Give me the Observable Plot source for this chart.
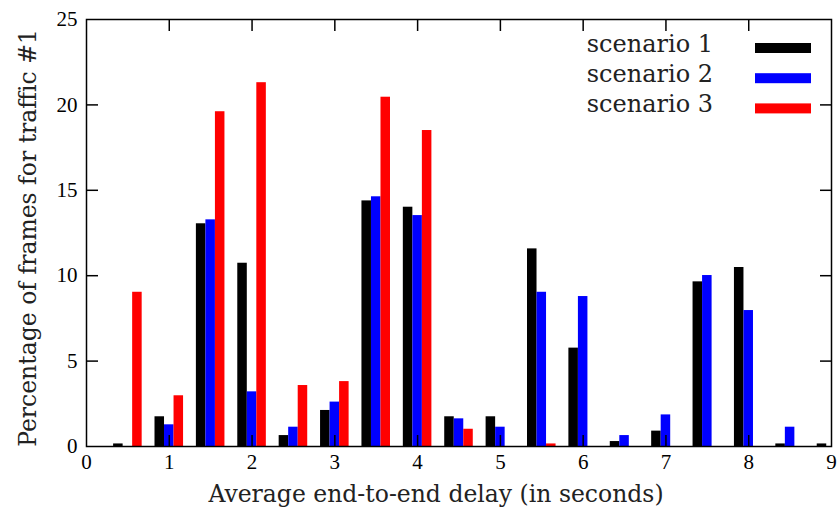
<!DOCTYPE html>
<html><head><meta charset="utf-8">
<script src="https://cdn.jsdelivr.net/npm/d3@7"></script>
<script src="https://cdn.jsdelivr.net/npm/@observablehq/plot@0.6"></script>
<style>body{margin:0;background:#fff} #chart{width:838px;height:511px}</style>
</head><body><div id="chart"></div>
<script>
const delays = [0.5,1,1.5,2,2.5,3,3.5,4,4.5,5,5.5,6,6.5,7,7.5,8,8.5,9];
const scenario1 = [0.15,1.74,13.04,10.73,0.64,2.11,14.38,14.01,1.74,1.74,11.57,5.76,0.29,0.9,9.64,10.48,0.15,0.15];
const scenario2 = [0,1.27,13.27,3.2,1.13,2.6,14.62,13.52,1.62,1.13,9.03,8.78,0.64,1.85,10.01,7.96,1.13,0];
const scenario3 = [9.03,2.97,19.6,21.3,3.57,3.8,20.45,18.5,1.01,0,0.15,0,0,0,0,0,0,0];
const seriesNames = ["scenario 1","scenario 2","scenario 3"];
const seriesColors = ["#000000","#0000ff","#ff0000"];
const xTicks = [0,1,2,3,4,5,6,7,8,9];
const yTicks = [0,5,10,15,20,25];
const xLabel = "Average end-to-end delay (in seconds)";
const yLabel = "Percentage of frames for traffic #1";

const barW = 0.115;
const series = [scenario1, scenario2, scenario3];
const bars = series.flatMap((vals, s) => vals.map((v, i) => ({
  x1: delays[i] + (s - 1) * barW - barW / 2,
  x2: delays[i] + (s - 1) * barW + barW / 2,
  value: v, color: seriesColors[s]
})));

const serif = "'DejaVu Serif', serif";
const tickFont = "'Liberation Serif', serif";
const innerX = xTicks.slice(1, -1);
const innerY = yTicks.slice(1, -1);

const plot = Plot.plot({
  width: 838, height: 511,
  marginLeft: 86, marginRight: 7, marginTop: 19, marginBottom: 65,
  x: {domain: [0, 9]},
  y: {domain: [0, 25]},
  style: {fontFamily: tickFont, background: "white", color: "black"},
  marks: [
    Plot.rectY(bars, {x1: "x1", x2: "x2", y: "value", fill: "color"}),
    Plot.axisX({anchor: "bottom", ticks: xTicks, tickSize: 0, tickPadding: 8, fontSize: 21, label: null}),
    Plot.axisY({anchor: "left", ticks: yTicks, tickSize: 0, tickPadding: 9, fontSize: 21, label: null}),
    Plot.axisX({anchor: "top", ticks: innerX, tickSize: -11, tickFormat: () => "", label: null, strokeWidth: 1.5}),
    Plot.axisX({anchor: "bottom", ticks: innerX, tickSize: -11, tickFormat: () => "", label: null, strokeWidth: 1.5}),
    Plot.axisY({anchor: "left", ticks: innerY, tickSize: -12, tickFormat: () => "", label: null, strokeWidth: 1.5}),
    Plot.axisY({anchor: "right", ticks: innerY, tickSize: -12, tickFormat: () => "", label: null, strokeWidth: 1.5}),
    Plot.frame({stroke: "black", strokeWidth: 1.5}),
    Plot.text([xLabel], {text: d => d, frameAnchor: "bottom", textAnchor: "middle", dy: 48, dx: -23, fontSize: 23.5, fontFamily: serif, lineAnchor: "middle", fill: "#222"}),
    Plot.text([yLabel], {text: d => d, frameAnchor: "left", textAnchor: "middle", rotate: -90, dx: -58, dy: 5, fontSize: 23.5, fontFamily: serif, lineAnchor: "middle", fill: "#222"})
  ]
});

const svg = d3.select(plot);
const lg = svg.append("g");
seriesNames.forEach((n, i) => {
  lg.append("text").attr("x", 713).attr("y", 52 + i * 30)
    .attr("text-anchor", "end").attr("font-family", serif).attr("font-size", 24).attr("fill", "#222").text(n);
  lg.append("rect").attr("x", 755).attr("y", 43 + i * 30.2).attr("width", 56).attr("height", 10).attr("fill", seriesColors[i]);
});
document.getElementById("chart").appendChild(plot);
</script>
</body></html>
